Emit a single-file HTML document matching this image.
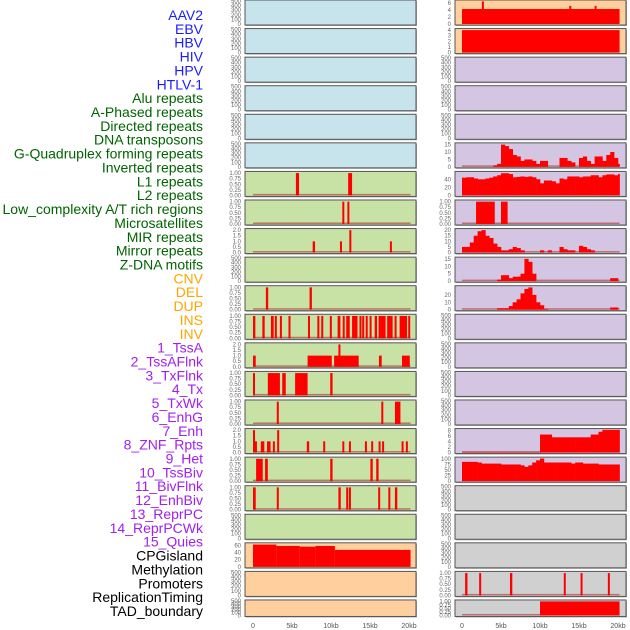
<!DOCTYPE html>
<html><head><meta charset="utf-8">
<style>
html,body{margin:0;padding:0;background:#fff;}
svg{display:block;font-family:"Liberation Sans",sans-serif;}
</style></head>
<body>
<svg id="chart" width="630" height="630" viewBox="0 0 630 630" xmlns="http://www.w3.org/2000/svg"></svg>
<script>
// ---------- data ----------
const trackLabels = ["AAV2","EBV","HBV","HIV","HPV","HTLV-1","Alu repeats","A-Phased repeats","Directed repeats","DNA transposons","G-Quadruplex forming repeats","Inverted repeats","L1 repeats","L2 repeats","Low_complexity A/T rich regions","Microsatellites","MIR repeats","Mirror repeats","Z-DNA motifs","CNV","DEL","DUP","INS","INV","1_TssA","2_TssAFlnk","3_TxFlnk","4_Tx","5_TxWk","6_EnhG","7_Enh","8_ZNF_Rpts","9_Het","10_TssBiv","11_BivFlnk","12_EnhBiv","13_ReprPC","14_ReprPCWk","15_Quies","CPGisland","Methylation","Promoters","ReplicationTiming","TAD_boundary"];
const labelGroups = ["v","v","v","v","v","v","r","r","r","r","r","r","r","r","r","r","r","r","r","s","s","s","s","s","c","c","c","c","c","c","c","c","c","c","c","c","c","c","c","o","o","o","o","o"];
const xTickValues = [0,5,10,15,20];
const xTickLabels = ["0","5kb","10kb","15kb","20kb"];
const emptyTicks = [0,100,200,300,400,500];
const unitTicks = [0,0.25,0.5,0.75,1.0];
const twoTicks = [0,0.5,1.0,1.5,2.0];

// segment tracks: [startKb, endKb, value]
const segL6 = [[5.5,5.9,1],[12.2,12.7,1]];
const segL7 = [[11.45,11.7,1],[12.1,12.35,1]];
const segL8 = [[7.65,7.95,1],[11.15,11.4,1],[12.35,12.6,2],[17.55,17.8,1]];
const segL10 = [[1.65,1.95,1],[7.25,7.55,1]];
const segL11 = [[0,0.3,1],[1.2,1.5,1],[2.3,2.65,1],[2.8,3.0,1],[3.45,3.7,1],[4.55,4.8,1],[7.05,7.3,1],[8.25,8.5,1],[8.75,9.0,1],[9.85,10.1,1],[10.85,11.2,1],[11.5,11.75,1],[11.95,12.4,1],[12.7,13.4,1],[13.65,13.9,1],[14.0,14.2,1],[14.45,14.7,1],[14.95,15.2,1],[15.6,15.9,1],[16.1,17.0,1],[17.2,17.9,1],[18.15,18.4,1],[18.8,19.75,1],[19.9,20.1,1]];
const segL12 = [[0,0.35,1],[7.0,10.1,1],[10.4,13.55,1],[10.95,11.15,2],[16.15,16.5,1],[19.1,20.1,1]];
const segL13 = [[0,0.25,1],[1.9,3.45,1],[3.75,4.2,1],[5.4,7.0,1],[9.9,10.2,1]];
const segL14 = [[3.05,3.3,1],[16.45,16.7,1],[18.2,18.9,1]];
const segL15 = [[0,0.2,2],[0.25,0.45,1],[1.0,1.45,1],[1.8,2.25,1],[2.55,2.75,1],[3.1,3.3,2],[6.9,7.2,1],[9.0,9.15,1],[11.45,11.65,1],[12.3,12.5,1],[14.35,14.55,1],[15.15,15.35,1],[16.1,16.3,1],[16.55,16.75,1],[19.05,19.25,1],[19.6,19.8,1]];
const segL16 = [[0.4,1.25,1],[1.55,1.9,1],[9.9,10.2,1],[15.05,15.35,1],[15.8,16.1,1]];
const segL17 = [[0,0.35,1],[3.05,3.3,1],[10.95,11.25,1],[11.95,12.15,1],[12.3,12.5,1],[16.05,16.3,1],[17.35,17.6,1],[18.2,18.5,1]];
const segL19 = [[0,3,62],[3,6,58],[6,8,56],[8,10.5,58],[10.5,20.2,47]];
const segR0 = [[0,20.2,4.3],[2.55,2.8,6.5],[13.75,13.95,5.2],[17.0,17.2,5.2]];
const segR1 = [[0,20.2,4]];
const segR7 = [[1.8,4.2,1],[5.0,5.85,1]];
const segR20 = [[0.4,0.7,1],[2.2,2.45,1],[6.15,6.45,1],[13.05,13.3,1],[15.2,15.45,1],[18.7,18.95,1]];
const segR21 = [[10,20.2,1]];

// histogram tracks (0.5kb bins from 0kb)
const histR5 = [0,0,0,0,0,0,0,0,1,2,15,14,12,8,7,4,5,5,4,2,4,4,0,0,0,6,6,4,3,0,6,7,4,2,7,7,4,8,10,6,2];
const histR6 = [44,45,45,42,40,40,42,44,47,50,55,55,53,45,46,47,46,47,45,40,30,37,37,35,30,42,40,47,47,47,45,47,47,50,50,45,50,52,52,50,53];
const histR8 = [5,5,9,15,19,20,15,13,8,5,2,2,3,5,4,2,0,0,0,0,2,0,2,0,0,5,3,2,2,0,6,5,3,2,0,0,0,0,0,0,0];
const histR9 = [0,0,0,0,0,0,0,0,0,1,4,4,2,3,3,5,15,13,5,0,0,0,0,0,0,0,0,0,0,0,0,0,0,0,0,0,0,0,2,2,0];
const histR10 = [0,0,0,0,0,0,0,0,0,2,2,2,5,10,14,22,28,30,20,10,6,1,0,0,0,0,0,0,0,0,0,0,0,0,0,0,0,0,3,3,0];
const histR15 = [0.2,0.2,0.2,0.2,0.2,0.2,0.2,0.2,0.2,0.2,0.2,0.2,0.2,0.2,0.2,0.2,0.2,0.2,0.2,0.2,6.5,6.5,6.5,5.5,5.5,5.5,5.5,5.5,5.5,5.5,5.5,5.5,5.5,6.5,6.5,7.5,8.2,8.2,8.2,8.2,8.2];
const histR16 = [88,88,88,88,85,80,80,80,80,80,76,76,76,76,76,72,65,72,85,95,103,85,85,85,85,85,85,85,80,85,85,80,80,80,80,76,76,76,76,76,76];

const BLUE="#c7e4ec", GREEN="#c8e1a5", ORANGE="#ffcf9e", PURPLE="#d4c6e2", GRAY="#d0d0d0";
const unitLbl=["0.00","0.25","0.50","0.75","1.00"];
const panels = [];
for(let r=0;r<6;r++) panels.push([0,r,BLUE,"empty"]);
const leftSeg = {6:segL6,7:segL7,8:segL8,10:segL10,11:segL11,12:segL12,13:segL13,14:segL14,15:segL15,16:segL16,17:segL17};
for(let r=6;r<19;r++){
  if(leftSeg[r]){
    const two = (r===8||r===12||r===15);
    panels.push([0,r,GREEN,"seg",leftSeg[r],two?2.05:1.03,two?twoTicks:unitTicks,two?["0.0","0.5","1.0","1.5","2.0"]:unitLbl]);
  } else panels.push([0,r,GREEN,"empty"]);
}
panels.push([0,19,ORANGE,"seg",segL19,64,[0,20,40,60],["0","20","40","60"]]);
panels.push([0,20,ORANGE,"empty"]);
panels.push([0,21,ORANGE,"empty"]);
panels.push([1,0,ORANGE,"seg",segR0,6.6,[0,2,4,6],["0","2","4","6"]]);
panels.push([1,1,ORANGE,"seg",segR1,4.1,[0,1,2,3,4],["0","1","2","3","4"]]);
for(let r=2;r<17;r++){
  if(r===5) panels.push([1,r,PURPLE,"hist",histR5,15.5,[0,5,10,15],["0","5","10","15"]]);
  else if(r===6) panels.push([1,r,PURPLE,"hist",histR6,57,[0,20,40],["0","20","40"]]);
  else if(r===7) panels.push([1,r,PURPLE,"seg",segR7,1.03,unitTicks,unitLbl]);
  else if(r===8) panels.push([1,r,PURPLE,"hist",histR8,20.5,[0,5,10,15,20],["0","5","10","15","20"]]);
  else if(r===9) panels.push([1,r,PURPLE,"hist",histR9,15.5,[0,5,10,15],["0","5","10","15"]]);
  else if(r===10) panels.push([1,r,PURPLE,"hist",histR10,31,[0,10,20],["0","10","20"]]);
  else if(r===15) panels.push([1,r,PURPLE,"hist",histR15,8.3,[0,2,4,6,8],["0","2","4","6","8"]]);
  else if(r===16) panels.push([1,r,PURPLE,"hist",histR16,105,[0,25,50,75,100],["0","25","50","75","100"]]);
  else panels.push([1,r,PURPLE,"empty"]);
}
panels.push([1,17,GRAY,"empty"]);
panels.push([1,18,GRAY,"empty"]);
panels.push([1,19,GRAY,"empty"]);
panels.push([1,20,GRAY,"seg",segR20,1.03,unitTicks,unitLbl]);
panels.push([1,21,GRAY,"seg",segR21,1.03,unitTicks,unitLbl]);

// ---------- drawing ----------
const NS="http://www.w3.org/2000/svg";
const svg=document.getElementById("chart");
function mk(tag,attrs,parent){const e=document.createElementNS(NS,tag);for(const k in attrs)e.setAttribute(k,attrs[k]);(parent||svg).appendChild(e);return e;}
const colLeft=[245,455], colZero=[253,462], PXKB=7.8, PW=171;
function xScale(col,kb){return colZero[col]+kb*PXKB;}
function rowTop(r){return r*28.57;}
function rowH(r){return r===21?16.5:25;}
const groupColor={v:"#1c1cff",r:"#006400",s:"#ffa500",c:"#a020f0",o:"#000"};

trackLabels.forEach((t,i)=>{
  const e=mk("text",{x:203,y:15+i*13.86+5,"text-anchor":"end","font-size":"14",fill:groupColor[labelGroups[i]]});
  e.textContent=t;
  
  
});

panels.forEach(p=>{
  const [col,r,bg,kind,data,ymax,ticks,tl]=p;
  const top=rowTop(r), h=rowH(r), left=colLeft[col];
  const g=mk("g",{});
  
  
  mk("rect",{x:left+1,y:top+1,width:PW,height:h,fill:"#aaa"},g);
  mk("rect",{x:left,y:top,width:PW,height:h,fill:bg,stroke:"#555","stroke-width":1},g);
  const y0=top+h-1, y1=top+1;
  let tks,lbls,ym;
  if(kind==="empty"){tks=emptyTicks;lbls=emptyTicks.map(String);ym=500;}
  else {tks=ticks;lbls=tl;ym=ymax;}
  const ys=v=>y0-(v/ym)*(y0-y1);
  tks.forEach((v,i)=>{
    const e=mk("text",{x:left-4,y:ys(v)+2,"text-anchor":"end","font-size":"6",fill:"#666"},g);
    e.textContent=lbls[i];
    
    
  });
  if(kind==="empty") return;
  mk("rect",{x:xScale(col,0),y:y0-1.5,width:20.2*PXKB,height:1.5,fill:"#b03030",opacity:0.6},g);
  if(kind==="seg"){
    data.forEach(s=>{
      const b=mk("rect",{x:xScale(col,s[0]),y:ys(s[2]),width:Math.max(2,(s[1]-s[0])*PXKB),height:y0-ys(s[2]),fill:"#ff0000"},g);
      
      
    });
  } else {
    data.forEach((v,i)=>{
      if(v<=0) return;
      const s=i*0.5, e=Math.min(20.2,s+0.5);
      const b=mk("rect",{x:xScale(col,s),y:ys(v),width:(e-s)*PXKB+0.3,height:y0-ys(v),fill:"#ff0000"},g);
      
      
    });
  }
});

[0,1].forEach(col=>{
  xTickValues.forEach((v,i)=>{
    const e=mk("text",{x:xScale(col,v),y:628,"text-anchor":"middle","font-size":"7",fill:"#555"});
    e.textContent=xTickLabels[i];
    
    
  });
});
</script>
</body></html>
